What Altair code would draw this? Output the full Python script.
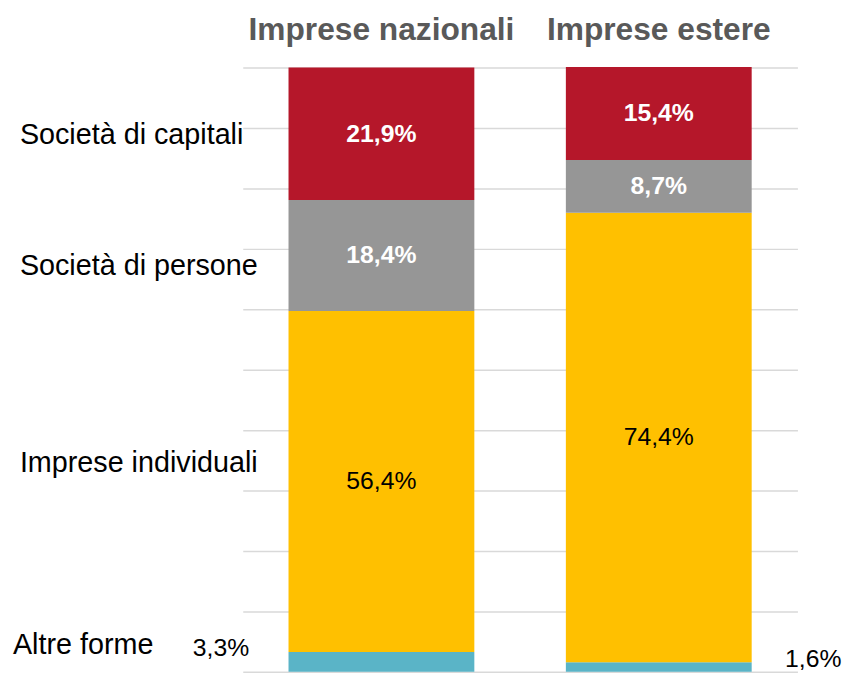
import altair as alt
import pandas as pd

# ---- data ----
groups = ["Imprese nazionali", "Imprese estere"]
forms = ["Società di capitali", "Società di persone", "Imprese individuali", "Altre forme"]
nazionali = [21.9, 18.4, 56.4, 3.3]
estere = [15.4, 8.7, 74.4, 1.6]
colors = ["#B5172A", "#969696", "#FFC000", "#5AB4C7"]

FONT = "Liberation Sans"

# ---- build the stacked table (bottom-up: Altre forme first) ----
rows = []
for g, vals in zip(groups, [nazionali, estere]):
    base = 0.0
    for f, v in reversed(list(zip(forms, vals))):
        rows.append({
            "group": g, "form": f, "value": v,
            "y0": base, "y1": base + v, "mid": base + v / 2,
            "label": f"{v:.1f}".replace(".", ",") + "%",
        })
        base += v
df = pd.DataFrame(rows)

# positions of the row labels on the left (in % units of the y scale)
label_anchor = [88.9, 67.1, 34.5, 4.4]
cat_df = pd.DataFrame({"form": forms, "ypos": label_anchor})
head_df = pd.DataFrame({"group": groups})

xscale = alt.Scale(domain=groups, paddingInner=0.33, paddingOuter=0.165)
yscale = alt.Scale(domain=[0, 100], nice=False)

X = alt.X("group:N", sort=groups, scale=xscale, axis=None)

bars = alt.Chart(df).mark_bar().encode(
    x=X,
    y=alt.Y("y0:Q", scale=yscale,
            axis=alt.Axis(values=list(range(0, 101, 10)), labels=False, ticks=False,
                          domain=False, title=None, grid=True,
                          gridColor="#D9D9D9", gridWidth=1.5)),
    y2="y1:Q",
    color=alt.Color("form:N", scale=alt.Scale(domain=forms, range=colors), legend=None),
)

VS = 25

txt_white = alt.Chart(df).transform_filter(
    alt.FieldOneOfPredicate(field="form", oneOf=forms[:2])
).mark_text(font=FONT, fontSize=VS, fontWeight="bold", color="white",
            baseline="middle").encode(x=X, y=alt.Y("mid:Q", scale=yscale), text="label:N")

txt_black = alt.Chart(df).transform_filter(
    alt.datum.form == forms[2]
).mark_text(font=FONT, fontSize=VS, color="black",
            baseline="middle").encode(x=X, y=alt.Y("mid:Q", scale=yscale), text="label:N")

txt_out_left = alt.Chart(df).transform_filter(
    (alt.datum.form == forms[3]) & (alt.datum.group == groups[0])
).mark_text(font=FONT, fontSize=VS, color="black", align="right", dx=-133.5, dy=-14,
            baseline="middle").encode(x=X, y=alt.Y("mid:Q", scale=yscale), text="label:N")

txt_out_right = alt.Chart(df).transform_filter(
    (alt.datum.form == forms[3]) & (alt.datum.group == groups[1])
).mark_text(font=FONT, fontSize=VS, color="black", align="left", dx=127.5, dy=-8.5,
            baseline="middle").encode(x=X, y=alt.Y("mid:Q", scale=yscale), text="label:N")

headers = alt.Chart(head_df).mark_text(
    font=FONT, fontSize=32, fontWeight="bold", color="#595959", baseline="middle"
).encode(x=X, y=alt.value(-38), text="group:N")

cats_main = alt.Chart(cat_df).transform_filter(
    alt.datum.form != forms[3]
).mark_text(font=FONT, fontSize=29, color="black", align="left", baseline="middle").encode(
    x=alt.value(-225), y=alt.Y("ypos:Q", scale=yscale), text="form:N")

cats_last = alt.Chart(cat_df).transform_filter(
    alt.datum.form == forms[3]
).mark_text(font=FONT, fontSize=29, color="black", align="left", baseline="middle").encode(
    x=alt.value(-232), y=alt.Y("ypos:Q", scale=yscale), text="form:N")

chart = alt.layer(
    bars, txt_white, txt_black, txt_out_left, txt_out_right, headers, cats_main, cats_last
).properties(
    width=560, height=610,
    autosize=alt.AutoSizeParams(type="none"),
    padding={"left": 237, "top": 57, "right": 47, "bottom": 0},
).configure_view(stroke=None)

chart.save("out.html", embed_options={"renderer": "svg", "actions": False})
